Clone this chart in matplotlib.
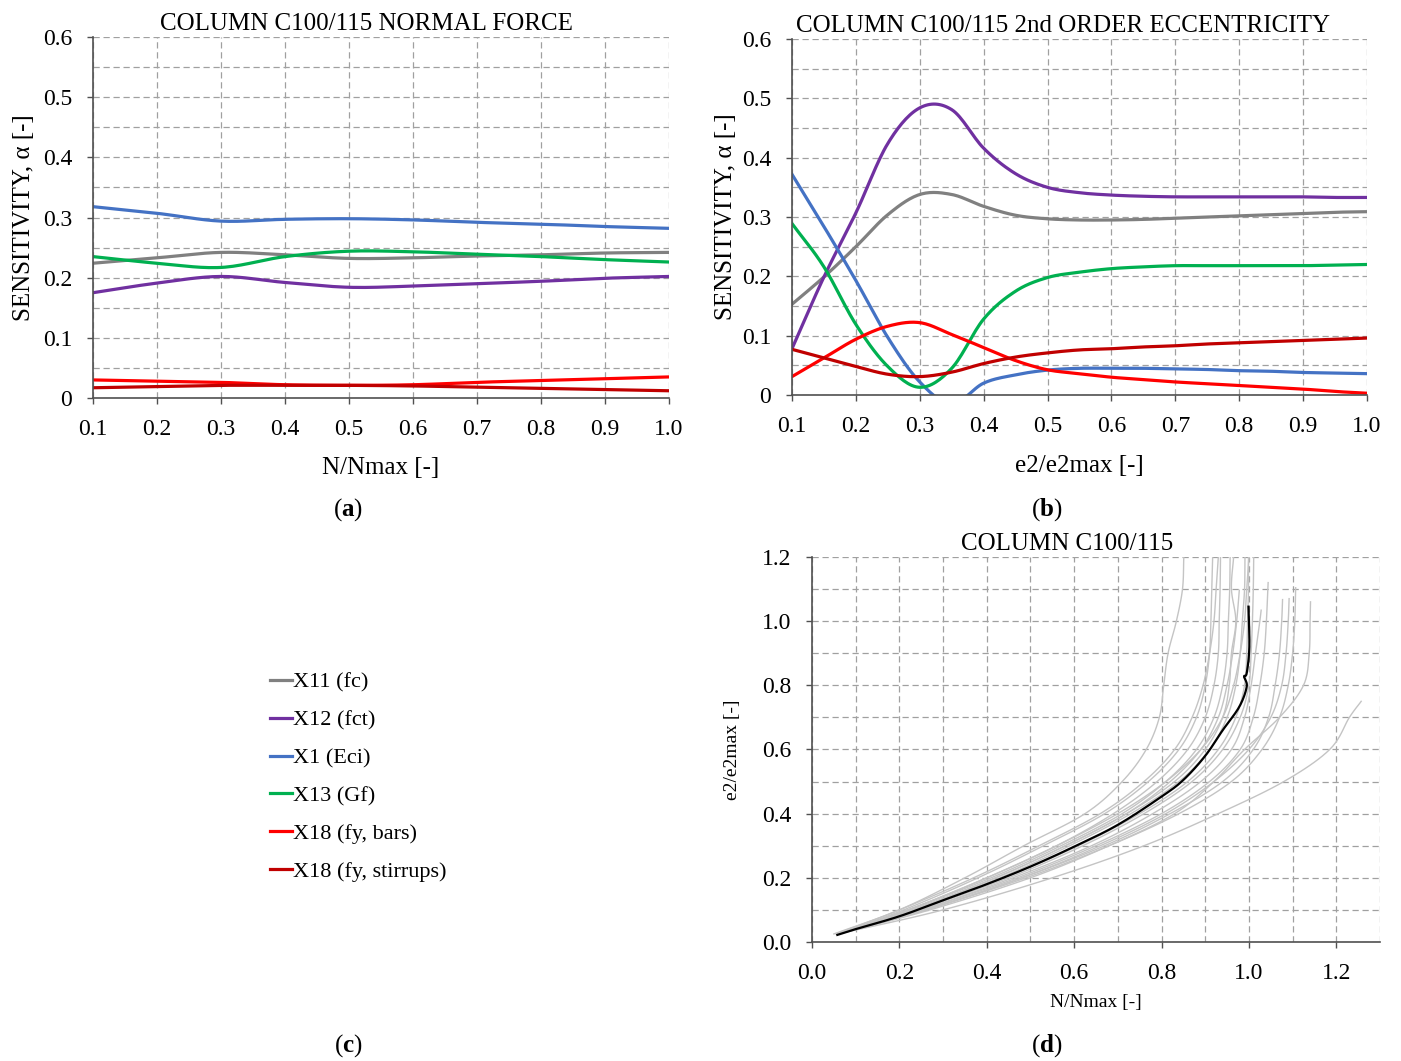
import numpy as np
import matplotlib
matplotlib.use("Agg")
import matplotlib.pyplot as plt
from matplotlib.ticker import MultipleLocator, FuncFormatter

plt.rcParams['font.family'] = ['Liberation Serif', 'DejaVu Serif']
plt.rcParams['mathtext.fontset'] = 'custom'
plt.rcParams['mathtext.rm'] = 'Liberation Serif'
plt.rcParams['mathtext.bf'] = 'Liberation Serif:bold'

# ---- data: panel (a), sensitivity vs N/Nmax
xa = [0.1, 0.2, 0.3, 0.4, 0.5, 0.6, 0.7, 0.8, 0.9, 1.0]
a_x11 = [0.224, 0.233, 0.242, 0.238, 0.232, 0.233, 0.236, 0.238, 0.241, 0.242]
a_x12 = [0.175, 0.191, 0.202, 0.192, 0.184, 0.186, 0.190, 0.194, 0.199, 0.202]
a_x1 = [0.318, 0.307, 0.294, 0.297, 0.298, 0.296, 0.292, 0.289, 0.285, 0.282]
a_x13 = [0.235, 0.224, 0.217, 0.235, 0.244, 0.243, 0.239, 0.235, 0.230, 0.226]
a_x18b = [0.030, 0.028, 0.026, 0.022, 0.021, 0.022, 0.026, 0.029, 0.032, 0.035]
a_x18s = [0.017, 0.019, 0.021, 0.021, 0.021, 0.020, 0.018, 0.016, 0.014, 0.012]

# ---- data: panel (b), sensitivity vs e2/e2max
xb = [0.1, 0.15, 0.2, 0.25, 0.3, 0.35, 0.4, 0.45, 0.5, 0.55,
      0.6, 0.65, 0.7, 0.75, 0.8, 0.85, 0.9, 0.95, 1.0]
b_x11 = [0.153, 0.199, 0.250, 0.304, 0.338, 0.338, 0.318, 0.303, 0.297, 0.295,
         0.295, 0.296, 0.298, 0.300, 0.302, 0.304, 0.306, 0.308, 0.309]
b_x12 = [0.078, 0.199, 0.307, 0.424, 0.484, 0.481, 0.416, 0.373, 0.350, 0.341,
         0.337, 0.335, 0.334, 0.334, 0.334, 0.334, 0.334, 0.333, 0.333]
b_x1 = [0.372, 0.284, 0.193, 0.097, 0.022, -0.015, 0.020, 0.034, 0.042, 0.045,
        0.045, 0.045, 0.044, 0.043, 0.041, 0.040, 0.038, 0.037, 0.036]
b_x13 = [0.289, 0.216, 0.119, 0.048, 0.013, 0.045, 0.128, 0.175, 0.198, 0.207,
         0.213, 0.216, 0.218, 0.218, 0.218, 0.218, 0.218, 0.219, 0.220]
b_x18b = [0.031, 0.0625, 0.094, 0.116, 0.122, 0.102, 0.080, 0.058, 0.0425, 0.036,
          0.030, 0.026, 0.022, 0.019, 0.016, 0.013, 0.010, 0.006, 0.003]
b_x18s = [0.077, 0.0625, 0.048, 0.035, 0.031, 0.0385, 0.053, 0.064, 0.071, 0.076,
          0.078, 0.081, 0.083, 0.086, 0.088, 0.090, 0.092, 0.094, 0.096]

labels = ['X11 (fc)', 'X12 (fct)', 'X1 (Eci)', 'X13 (Gf)', 'X18 (fy, bars)', 'X18 (fy, stirrups)']
colors = ['#808080', '#7030A0', '#4472C4', '#00B050', '#FF0000', '#C00000']

# ---- data: panel (d), e2/e2max vs N/Nmax (simulations + mean)
d_levels = [0.025, 0.1, 0.2, 0.3, 0.4, 0.5, 0.6, 0.7, 0.8, 0.9, 1.0, 1.1, 1.2]
d_runs_x = [
    [0.05, 0.20, 0.35, 0.485, 0.625, 0.71, 0.765, 0.795, 0.805, 0.815, 0.834, 0.848, 0.851],
    [0.06, 0.21, 0.38, 0.53, 0.67, 0.77, 0.84, 0.88, 0.90, 0.91, 0.913, 0.915, 0.917],
    [0.06, 0.22, 0.40, 0.56, 0.69, 0.79, 0.86, 0.90, 0.92, 0.93, 0.932, 0.934, 0.935],
    [0.06, 0.22, 0.41, 0.57, 0.71, 0.81, 0.88, 0.92, 0.94, 0.95, 0.953, 0.956, 0.957],
    [0.06, 0.23, 0.42, 0.58, 0.72, 0.83, 0.90, 0.94, 0.955, 0.96, 0.97, 0.96, 0.965],
    [0.06, 0.23, 0.43, 0.59, 0.73, 0.84, 0.91, 0.95, 0.97, 0.98, 0.985, 0.99, 0.991],
    [0.06, 0.24, 0.44, 0.61, 0.75, 0.86, 0.93, 0.97, 0.99, 0.995, 0.997, 0.999, 0.999],
    [0.06, 0.24, 0.45, 0.62, 0.76, 0.87, 0.94, 0.98, 1.00, 1.005, 1.008, 1.01, 1.011],
    [0.055, 0.20, 0.37, 0.52, 0.66, 0.76, 0.83, 0.87, 0.895, 0.91, 0.92, 0.925, 0.93],
    [0.06, 0.22, 0.40, 0.56, 0.70, 0.81, 0.89, 0.94, 0.965, 0.98, 0.99, 0.995, 1.00],
    [0.06, 0.23, 0.42, 0.58, 0.72, 0.82, 0.89, 0.93, 0.95, 0.963, 0.972, 0.978],
    [0.06, 0.25, 0.46, 0.64, 0.78, 0.89, 0.96, 0.99, 1.005, 1.015, 1.025, 1.028],
    [0.06, 0.25, 0.47, 0.65, 0.80, 0.91, 0.98, 1.01, 1.025, 1.035, 1.04, 1.044],
    [0.06, 0.26, 0.48, 0.67, 0.82, 0.94, 1.01, 1.045, 1.06, 1.07, 1.075, 1.077],
    [0.06, 0.26, 0.48, 0.66, 0.81, 0.92, 1.00, 1.05, 1.075, 1.085, 1.09, 1.092],
    [0.06, 0.26, 0.49, 0.68, 0.84, 0.96, 1.03, 1.07, 1.09, 1.10, 1.105, 1.107],
    [0.06, 0.27, 0.50, 0.68, 0.83, 0.92, 0.99, 1.07, 1.125, 1.138, 1.14, 1.141],
    [0.06, 0.30, 0.55, 0.76, 0.93, 1.08, 1.185, 1.23, 1.257],
]
d_runs_top = [1.2, 1.2, 1.2, 1.2, 1.2, 1.2, 1.2, 1.2, 1.2, 1.2, 1.096, 1.034, 1.12, 1.067, 1.07, 1.104, 1.06, 0.75]
d_mean_x = [0.058, 0.1, 0.2, 0.3, 0.4, 0.5, 0.6, 0.7, 0.8, 0.85, 0.9, 0.94, 0.978, 0.995, 0.989, 0.995, 1.001, 0.999]
d_mean_y = [0.022, 0.04, 0.08, 0.13, 0.18, 0.235, 0.297, 0.365, 0.453, 0.505, 0.58, 0.66, 0.733, 0.796, 0.827, 0.838, 0.92, 1.045]


def smooth(x, y, n=16):
    # Catmull-Rom curve through the points (like Excel's smoothed line)
    pts = np.column_stack([x, y]).astype(float)
    if len(pts) < 3:
        return pts[:, 0], pts[:, 1]
    P = np.vstack([2 * pts[0] - pts[1], pts, 2 * pts[-1] - pts[-2]])
    t = np.linspace(0, 1, n, endpoint=False)[:, None]
    segs = []
    for i in range(1, len(P) - 2):
        p0, p1, p2, p3 = P[i - 1], P[i], P[i + 1], P[i + 2]
        segs.append(0.5 * (2 * p1 + (-p0 + p2) * t + (2 * p0 - 5 * p1 + 4 * p2 - p3) * t ** 2
                           + (-p0 + 3 * p1 - 3 * p2 + p3) * t ** 3))
    segs.append(pts[-1:])
    s = np.vstack(segs)
    return s[:, 0], s[:, 1]


def style_axes(ax, fs):
    for side in ['top', 'right']:
        ax.spines[side].set_visible(False)
    for side in ['left', 'bottom']:
        ax.spines[side].set_color('#505050')
        ax.spines[side].set_linewidth(1.2)
    ax.grid(True, which='both', color='#a0a0a0', linestyle=(0, (5, 3)), linewidth=0.9)
    ax.tick_params(which='major', direction='out', length=4, width=1.0, color='#505050',
                   labelsize=fs, pad=11)
    ax.tick_params(which='minor', length=0)
    ax.set_axisbelow(True)


fig = plt.figure(figsize=(14.01, 10.61), dpi=100)

fmt0 = FuncFormatter(lambda v, p: '0' if abs(v) < 1e-9 else f'{v:.1f}')
fmt1 = FuncFormatter(lambda v, p: f'{v:.1f}')

# (a)
ax_a = fig.add_axes([0.0664, 0.6249, 0.4111, 0.3402])
series_a = [a_x11, a_x12, a_x1, a_x13, a_x18b, a_x18s]
handles = []
for ys, c, lab in zip(series_a, colors, labels):
    sx, sy = smooth(xa, ys)
    h, = ax_a.plot(sx, sy, color=c, lw=2.3, label=lab)
    handles.append(h)
ax_a.set_xlim(0.1, 1.0)
ax_a.set_ylim(0, 0.6)
ax_a.xaxis.set_major_locator(MultipleLocator(0.1))
ax_a.yaxis.set_major_locator(MultipleLocator(0.1))
ax_a.yaxis.set_minor_locator(MultipleLocator(0.05))
ax_a.xaxis.set_major_formatter(fmt1)
ax_a.yaxis.set_major_formatter(fmt0)
style_axes(ax_a, 17)
ax_a.set_title('COLUMN C100/115 NORMAL FORCE', fontsize=18, pad=5, x=0.474)
ax_a.set_xlabel('N/Nmax [-]', fontsize=18)
ax_a.set_ylabel('SENSITIVITY, α [-]', fontsize=18)
ax_a.xaxis.set_label_coords(0.5, -0.164)
ax_a.yaxis.set_label_coords(-0.1, 0.5)

# (b)
ax_b = fig.add_axes([0.5653, 0.6277, 0.4104, 0.3355])
series_b = [b_x11, b_x12, b_x1, b_x13, b_x18b, b_x18s]
for ys, c in zip(series_b, colors):
    sx, sy = smooth(xb, ys)
    ax_b.plot(sx, sy, color=c, lw=2.3)
ax_b.set_xlim(0.1, 1.0)
ax_b.set_ylim(0, 0.6)
ax_b.xaxis.set_major_locator(MultipleLocator(0.1))
ax_b.yaxis.set_major_locator(MultipleLocator(0.1))
ax_b.yaxis.set_minor_locator(MultipleLocator(0.05))
ax_b.xaxis.set_major_formatter(fmt1)
ax_b.yaxis.set_major_formatter(fmt0)
style_axes(ax_b, 17)
ax_b.set_title('COLUMN C100/115 2nd ORDER ECCENTRICITY', fontsize=18, pad=5, x=0.471)
ax_b.set_xlabel('e2/e2max [-]', fontsize=18)
ax_b.set_ylabel('SENSITIVITY, α [-]', fontsize=18)
ax_b.xaxis.set_label_coords(0.5, -0.168)
ax_b.yaxis.set_label_coords(-0.095, 0.5)

# (d)
ax_d = fig.add_axes([0.5796, 0.1122, 0.4054, 0.3629])
for xs, top in zip(d_runs_x, d_runs_top):
    ys = list(d_levels[:len(xs) - 1]) + [top]
    sx, sy = smooth(xs, ys, n=10)
    ax_d.plot(sx, sy, color='#c4c4c4', lw=1.0)
sx, sy = smooth(d_mean_x, d_mean_y, n=10)
ax_d.plot(sx, sy, color='black', lw=1.6)
ax_d.set_xlim(0, 1.3)
ax_d.set_ylim(0, 1.2)
ax_d.xaxis.set_major_locator(MultipleLocator(0.2))
ax_d.xaxis.set_minor_locator(MultipleLocator(0.1))
ax_d.yaxis.set_major_locator(MultipleLocator(0.2))
ax_d.yaxis.set_minor_locator(MultipleLocator(0.1))
ax_d.xaxis.set_major_formatter(fmt1)
ax_d.yaxis.set_major_formatter(fmt1)
style_axes(ax_d, 17)
ax_d.set_title('COLUMN C100/115', fontsize=18, pad=5, x=0.449)
ax_d.set_xlabel('N/Nmax [-]', fontsize=14)
ax_d.set_ylabel('e2/e2max [-]', fontsize=14)
ax_d.xaxis.set_label_coords(0.5, -0.135)
ax_d.yaxis.set_label_coords(-0.125, 0.5)

# (c) legend only
fig.legend(handles, labels, loc='upper left', bbox_to_anchor=(270 / 1401, 1 - 672 / 1061),
           frameon=False, fontsize=16, handlelength=1.0, handletextpad=0.05,
           labelspacing=0.78, borderpad=0, borderaxespad=0)

for lab, px, py in [('a', 348, 510), ('b', 1047, 510), ('c', 348, 1046), ('d', 1047, 1046)]:
    fig.text(px / 1401, 1 - py / 1061, r'($\mathbf{' + lab + '}$)', fontsize=18,
             ha='center', va='center')

fig.savefig('out.png', dpi=100)
